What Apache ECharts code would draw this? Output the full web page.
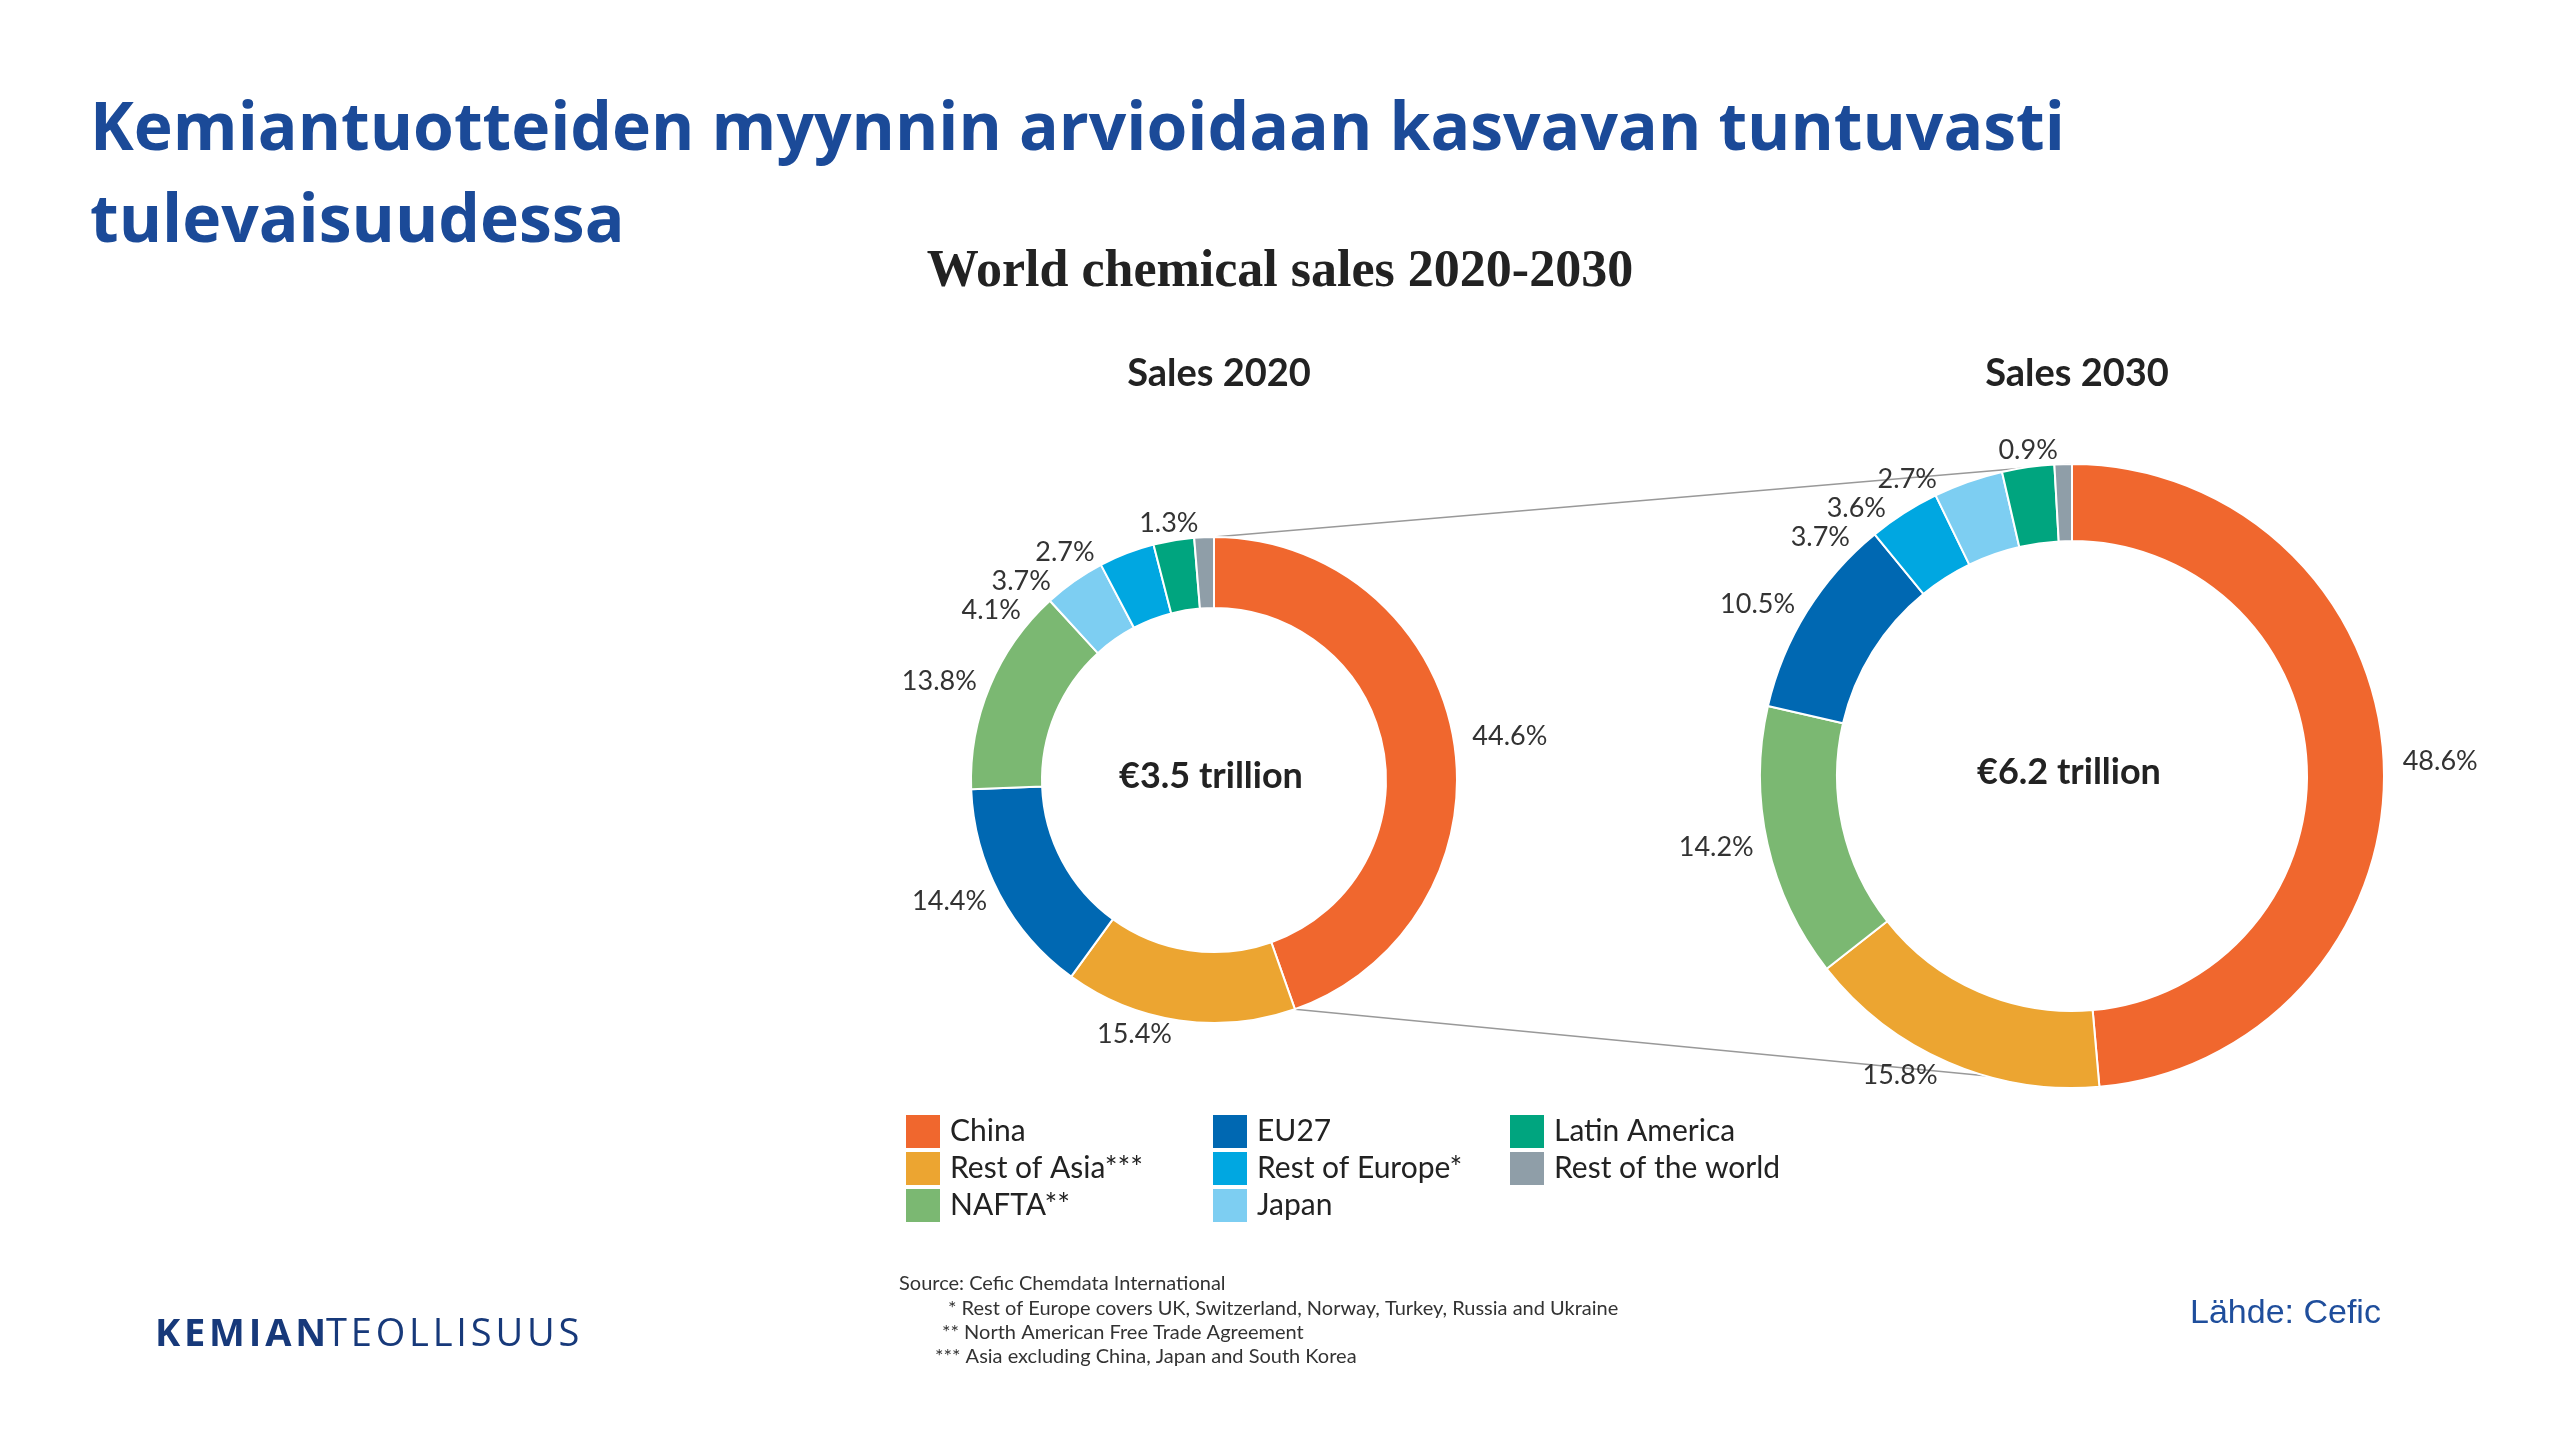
<!DOCTYPE html>
<html>
<head>
<meta charset="utf-8">
<script src="https://cdn.jsdelivr.net/npm/echarts@6/dist/echarts.min.js"></script>
<style>html,body{margin:0;padding:0;background:#fff}#main{width:2560px;height:1440px}</style>
</head>
<body>
<div id="main"></div>
<script>
var colors = {'China':'#f0672e','Rest of Asia***':'#eca531','NAFTA**':'#7bb872','EU27':'#0068b2','Rest of Europe*':'#00a7e1','Japan':'#7dcef2','Latin America':'#00a57f','Rest of the world':'#8f9ea8'};
// clockwise from top
var order2020 = ['China', 'Rest of Asia***', 'EU27', 'NAFTA**', 'Japan', 'Rest of Europe*', 'Latin America', 'Rest of the world'];
var sales2020 = [44.6, 15.4, 14.4, 13.8, 4.1, 3.7, 2.7, 1.3];
var order2030 = ['China', 'Rest of Asia***', 'NAFTA**', 'EU27', 'Rest of Europe*', 'Japan', 'Latin America', 'Rest of the world'];
var sales2030 = [48.6, 15.8, 14.2, 10.5, 3.7, 3.6, 2.7, 0.9];

var p1 = {cx: 1214, cy: 780, r0: 172, r: 243};
var p2 = {cx: 2072, cy: 776, r0: 235, r: 312};

var chart = echarts.init(document.getElementById('main'));

function pieData(order, vals) {
    return order.map(function (n, i) {
        return {name: n, value: vals[i], itemStyle: {color: colors[n]}};
    });
}
// point on outer ring after fraction f clockwise from top
function ringPt(p, f) {
    var a = f * 2 * Math.PI;
    return [p.cx + p.r * Math.sin(a), p.cy - p.r * Math.cos(a)];
}
var a1 = ringPt(p1, 0), a2 = ringPt(p2, 0);
var b1 = ringPt(p1, sales2020[0] / 100), b2 = ringPt(p2, sales2030[0] / 100);

var labelStyle = {
    show: true, position: 'outside', formatter: '{c}%',
    fontFamily: 'Lato', fontSize: 27, color: '#333'
};

function legendCol(data, left) {
    return {
        data: data, orient: 'vertical', left: left, top: 1108,
        itemWidth: 36, itemHeight: 35, itemGap: 0, icon: 'rect',
        textStyle: {fontFamily: 'Lato', fontSize: 30, color: '#222', padding: [0, 0, 0, 4]},
        selectedMode: false
    };
}

var logo = 'KEMIAN'.split('').join('\u200a');
var logo2 = 'TEOLLISUUS'.split('').join('\u200a');

chart.setOption({
    animation: false,
    title: [
        {text: 'Kemiantuotteiden myynnin arvioidaan kasvavan tuntuvasti\ntulevaisuudessa', left: 85, top: 80,
         textStyle: {fontFamily: 'Open Sans', fontWeight: 'bold', fontSize: 66, color: '#1b4a98', lineHeight: 92}},
        {text: 'World chemical sales 2020-2030', left: 1275, top: 242, textAlign: 'center',
         textStyle: {fontFamily: 'Liberation Serif', fontWeight: 'bold', fontSize: 52, color: '#222'}},
        {text: 'Sales 2020', left: 1214, top: 350, textAlign: 'center',
         textStyle: {fontFamily: 'Lato', fontWeight: 'bold', fontSize: 38, color: '#222'}},
        {text: 'Sales 2030', left: 2072, top: 350, textAlign: 'center',
         textStyle: {fontFamily: 'Lato', fontWeight: 'bold', fontSize: 38, color: '#222'}}
    ],
    legend: [
        legendCol(['China', 'Rest of Asia***', 'NAFTA**'], 899),
        legendCol(['EU27', 'Rest of Europe*', 'Japan'], 1206),
        legendCol(['Latin America', 'Rest of the world'], 1503)
    ],
    series: [
        {
            type: 'pie', center: [p1.cx, p1.cy], radius: [p1.r0, p1.r], startAngle: 90, clockwise: true,
            label: labelStyle, labelLine: {show: false, length: 14, length2: 0},
            itemStyle: {borderColor: '#fff', borderWidth: 2}, z: 3,
            data: pieData(order2020, sales2020)
        },
        {
            type: 'pie', center: [p2.cx, p2.cy], radius: [p2.r0, p2.r], startAngle: 90, clockwise: true,
            label: labelStyle, labelLine: {show: false, length: 14, length2: 0},
            itemStyle: {borderColor: '#fff', borderWidth: 2}, z: 3,
            data: pieData(order2030, sales2030)
        }
    ],
    graphic: [
        {type: 'line', z: 1, shape: {x1: a1[0], y1: a1[1], x2: a2[0], y2: a2[1]}, style: {stroke: '#999', lineWidth: 1.5}},
        {type: 'line', z: 1, shape: {x1: b1[0], y1: b1[1], x2: b2[0], y2: b2[1]}, style: {stroke: '#999', lineWidth: 1.5}},
        {type: 'text', left: p1.cx - 95, top: p1.cy - 22, z: 5,
         style: {text: '€3.5 trillion', font: 'bold 36px Lato', fill: '#222'}},
        {type: 'text', left: p2.cx - 95, top: p2.cy - 22, z: 5,
         style: {text: '€6.2 trillion', font: 'bold 36px Lato', fill: '#222'}},
        {type: 'text', left: 899, top: 1274,
         style: {text: 'Source: Cefic Chemdata International', font: '20px Lato', fill: '#333'}},
        {type: 'text', left: 948, top: 1299,
         style: {text: '* Rest of Europe covers UK, Switzerland, Norway, Turkey, Russia and Ukraine', font: '20px Lato', fill: '#333'}},
        {type: 'text', left: 942, top: 1323,
         style: {text: '** North American Free Trade Agreement', font: '20px Lato', fill: '#333'}},
        {type: 'text', left: 935, top: 1347,
         style: {text: '*** Asia excluding China, Japan and South Korea', font: '20px Lato', fill: '#333'}},
        {type: 'text', left: 2190, top: 1297,
         style: {text: 'Lähde: Cefic', font: '34px "Liberation Sans"', fill: '#1f4e9c'}},
        {type: 'text', left: 155, top: 1316,
         style: {
             text: '{b|' + logo + '}{r|' + logo2 + '}',
             rich: {
                 b: {font: 'bold 38px "Open Sans"', fill: '#17397a', color: '#17397a'},
                 r: {font: '38px "Open Sans"', fill: '#17397a', color: '#17397a'}
             }
         }}
    ]
});
</script>
</body>
</html>
